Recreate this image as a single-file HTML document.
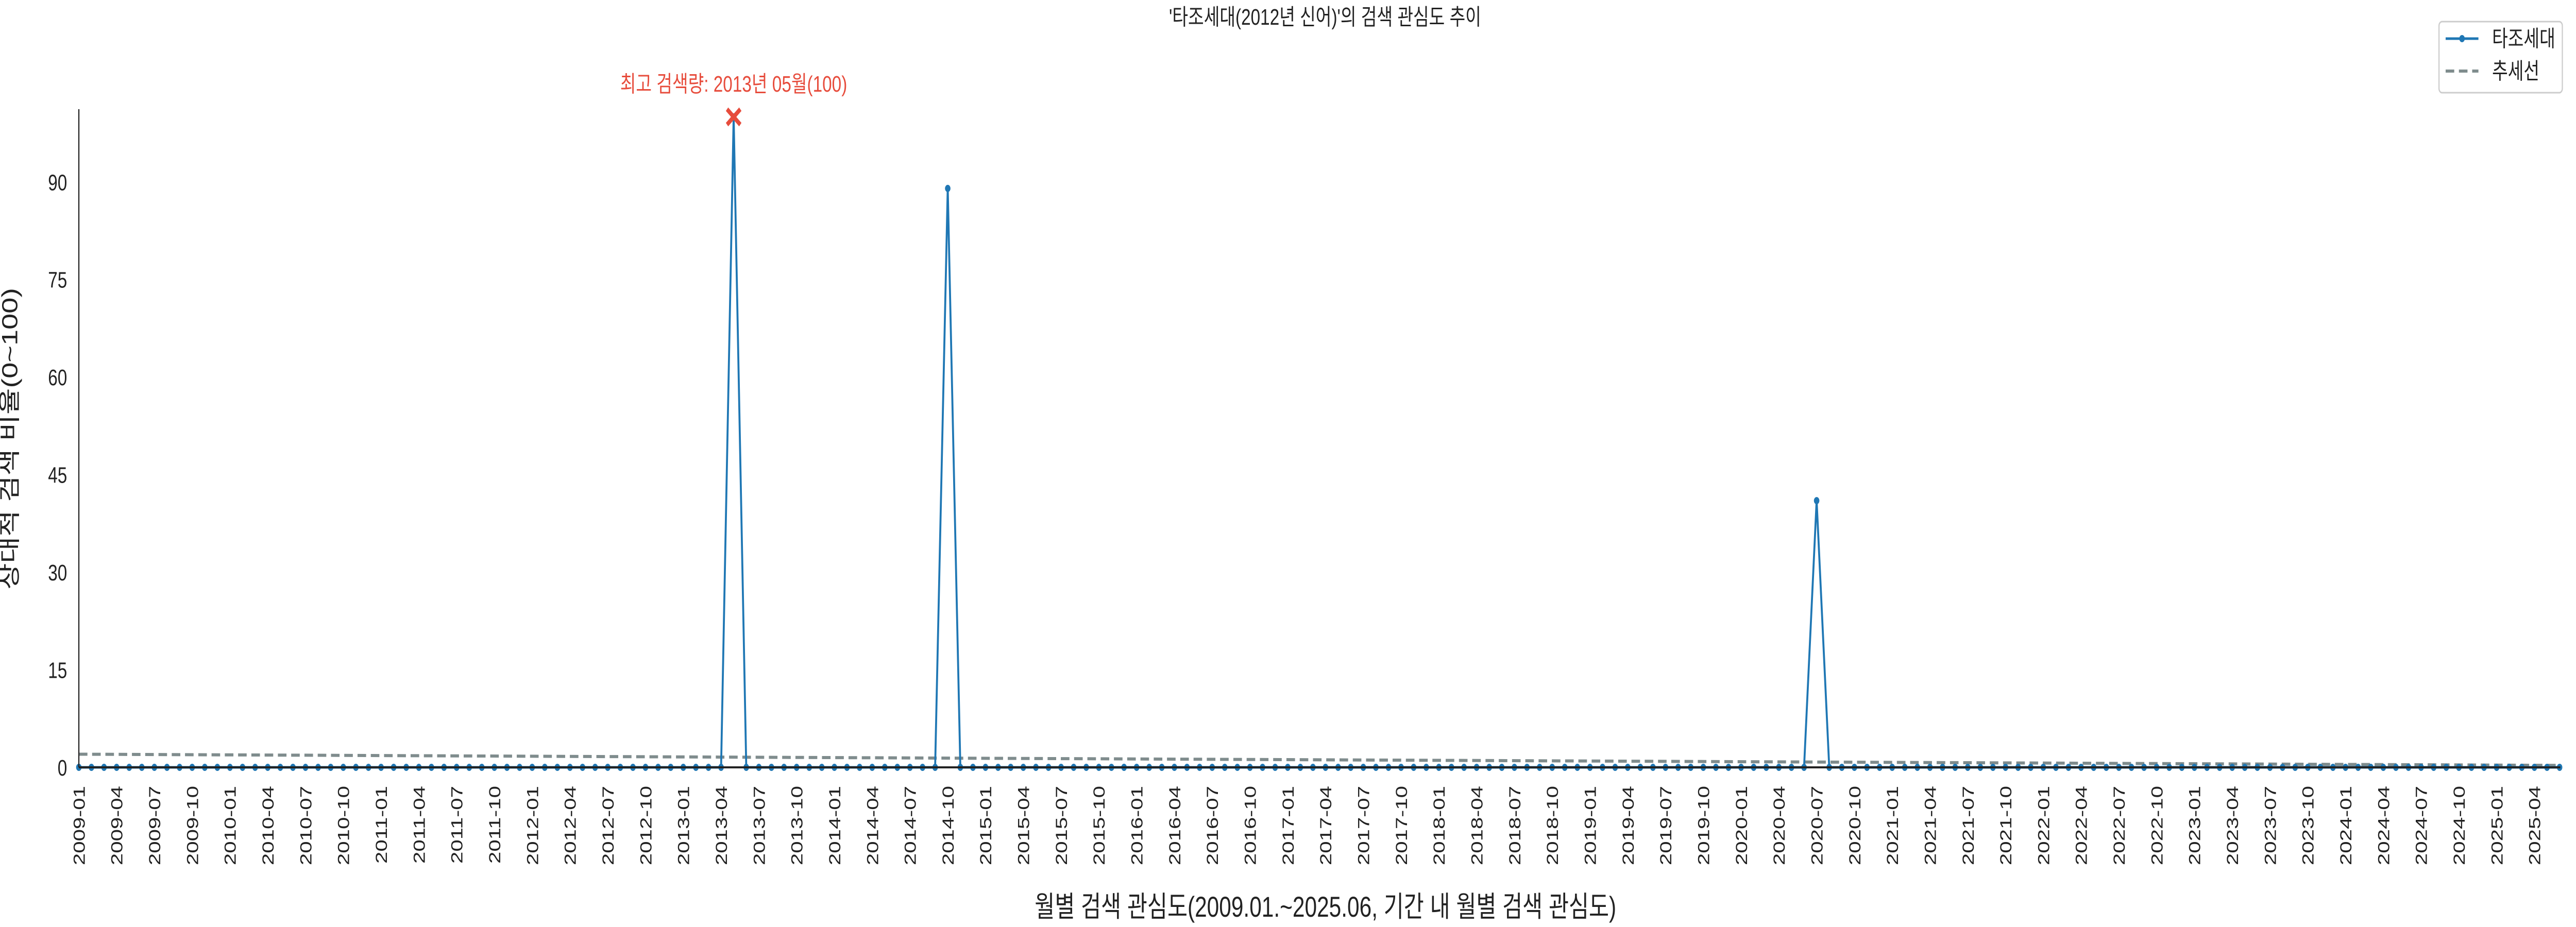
<!DOCTYPE html>
<html><head><meta charset="utf-8">
<style>
html,body{margin:0;padding:0;background:#fff;overflow:hidden;width:100%;height:100%;}
svg{display:block;width:100vw;height:100vh;font-family:"Liberation Sans","Noto Sans CJK KR",sans-serif;}
</style></head>
<body>
<svg id="chart" viewBox="0 0 6600 1800" preserveAspectRatio="none" xmlns="http://www.w3.org/2000/svg">
<rect width="6600" height="1800" fill="#fff"/>
<text x="3395" y="48" font-size="44" text-anchor="middle" fill="#222">'타조세대(2012년 신어)'의 검색 관심도 추이</text>
<g id="series"></g>
<line x1="202" y1="212" x2="202" y2="1490" stroke="#222" stroke-width="3"/>
<line x1="202" y1="1490" x2="6560" y2="1490" stroke="#222" stroke-width="4"/>
<g id="yticks"></g>
<g id="xticks"></g>
<text transform="translate(44,852) rotate(-90)" font-size="56" text-anchor="middle" fill="#222">상대적 검색 비율(0~100)</text>
<text x="3396" y="1780" font-size="56" text-anchor="middle" fill="#222">월별 검색 관심도(2009.01.~2025.06, 기간 내 월별 검색 관심도)</text>
<g>
<rect x="6249" y="42" width="316" height="138" rx="8" fill="#fff" stroke="#ccc" stroke-width="3"/>
<line x1="6266" y1="75" x2="6350" y2="75" stroke="#1f77b4" stroke-width="5"/>
<circle cx="6308" cy="75" r="7" fill="#1f77b4"/>
<text x="6385" y="90" font-size="44" fill="#222">타조세대</text>
<line x1="6266" y1="138" x2="6350" y2="138" stroke="#7f8c8d" stroke-width="6" stroke-dasharray="22,12"/>
<text x="6385" y="153" font-size="44" fill="#222">추세선</text>
</g>
</svg>
<script>
const startYear = 2009, startMonth = 1, nMonths = 198;
const peakIndices = [52, 69, 138];
const peakValues = [100, 89, 41];
const yTickValues = [0, 15, 30, 45, 60, 75, 90];
const values = [];
for (let i = 0; i < nMonths; i++) values.push(0);
peakIndices.forEach((k, j) => { values[k] = peakValues[j]; });

const NS = "http://www.w3.org/2000/svg";
const X0 = 202, X1 = 6558, Y0 = 1490, Yscale = 12.63;
const xs = i => X0 + (X1 - X0) * i / (nMonths - 1);
const ys = v => Y0 - v * Yscale;
function mk(tag, attrs, parent) {
  const e = document.createElementNS(NS, tag);
  for (const k in attrs) e.setAttribute(k, attrs[k]);
  parent.appendChild(e); return e;
}
const svg = document.getElementById('chart');
const yt = document.getElementById('yticks');
yTickValues.forEach(v => {
  const t = mk('text', {x: 172, y: ys(v) + 16, 'font-size': 44, 'text-anchor': 'end', fill: '#222'}, yt);
  
  
  t.textContent = v;
});
const xt = document.getElementById('xticks');
for (let i = 0; i < nMonths; i += 3) {
  const y = startYear + Math.floor((startMonth - 1 + i) / 12);
  const m = (startMonth - 1 + i) % 12 + 1;
  const lbl = y + '-' + String(m).padStart(2, '0');
  const x = xs(i);
  const t = mk('text', {transform: `translate(${x + 15},1526) rotate(-90)`, 'font-size': 42, 'text-anchor': 'end', fill: '#222'}, xt);
  
  
  t.textContent = lbl;
}
let sx = 0, sy = 0, sxx = 0, sxy = 0;
values.forEach((v, i) => { sx += i; sy += v; sxx += i * i; sxy += i * v; });
const n = values.length;
const slope = (n * sxy - sx * sy) / (n * sxx - sx * sx);
const icpt = (sy - slope * sx) / n;
const ser = document.getElementById('series');
const trend = mk('line', {x1: xs(0), y1: ys(icpt), x2: xs(n - 1), y2: ys(icpt + slope * (n - 1)), stroke: '#7f8c8d', 'stroke-width': 6, 'stroke-dasharray': '22,12'}, ser);


const pts = values.map((v, i) => xs(i).toFixed(1) + ',' + ys(v).toFixed(1)).join(' ');
const pl = mk('polyline', {points: pts, fill: 'none', stroke: '#1f77b4', 'stroke-width': 5, 'stroke-linejoin': 'round'}, ser);


values.forEach((v, i) => {
  const c = mk('circle', {cx: xs(i), cy: ys(v), r: 7, fill: '#1f77b4'}, ser);
  
  
});
let mi = 0; values.forEach((v, i) => { if (v > values[mi]) mi = i; });
const mx = xs(mi), my = ys(values[mi]);
const mkX = mk('path', {d: `M${mx-17},${my-15}L${mx+17},${my+15}M${mx-17},${my+15}L${mx+17},${my-15}`, stroke: '#e74c3c', 'stroke-width': 9}, ser);


const my2 = startYear + Math.floor((startMonth - 1 + mi) / 12);
const mm2 = (startMonth - 1 + mi) % 12 + 1;
const at = mk('text', {x: mx, y: 178, 'font-size': 44, 'text-anchor': 'middle', fill: '#e74c3c'}, svg);


at.textContent = `최고 검색량: ${my2}년 ${String(mm2).padStart(2, '0')}월(${values[mi]})`;
</script>
</body></html>
